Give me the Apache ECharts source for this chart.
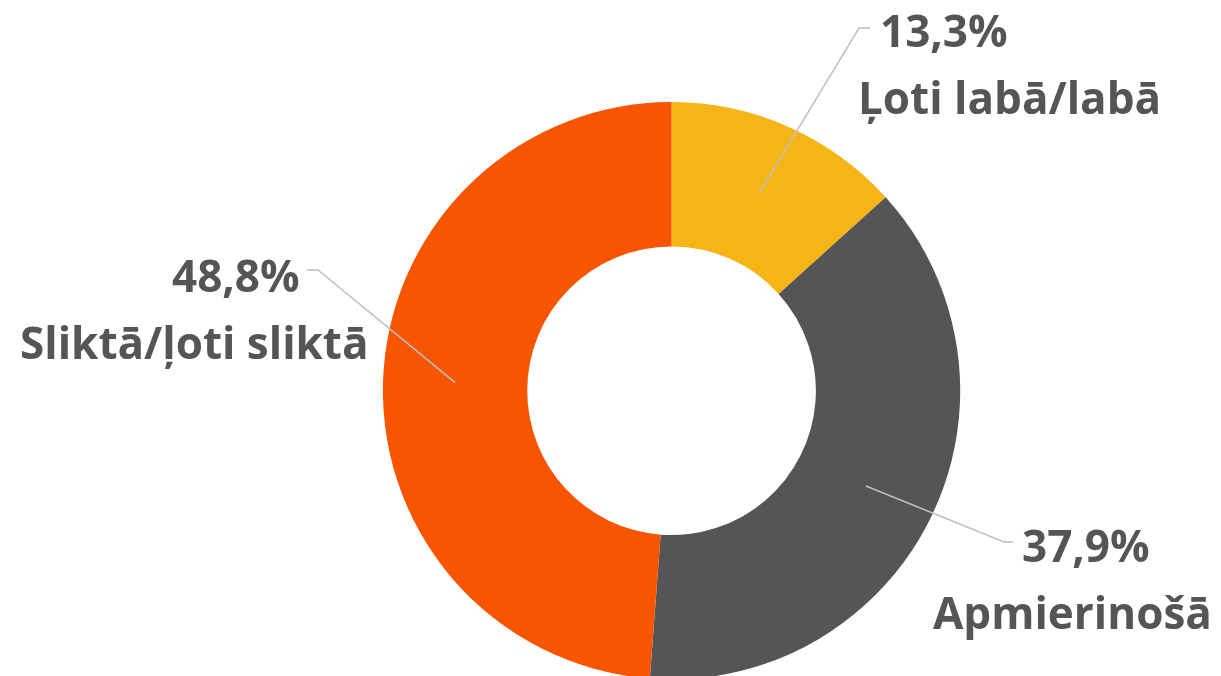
<!DOCTYPE html>
<html>
<head>
<meta charset="utf-8">
<script src="https://cdn.jsdelivr.net/npm/echarts@6/dist/echarts.min.js"></script>
<style>
  html, body { margin: 0; padding: 0; background: #fff; }
  #chart { width: 1221px; height: 676px; }
</style>
</head>
<body>
<div id="chart"></div>
<script>
const categories = ["Ļoti labā/labā", "Apmierinošā", "Sliktā/ļoti sliktā"];
const shares = [13.3, 37.9, 48.8];
const colors = ["#F6B517", "#555555", "#F75500"];

const CENTER = [0.55, 0.578];
const RADIUS = [0.427, 0.854];

const chart = echarts.init(document.getElementById("chart"));

// label boxes: name left x, top y, offset of the % line, line elbow and end
const spots = [
  { x: 858, y: 1, off: 22, elbow: [859, 28], end: [870, 28] },
  { x: 933, y: 516, off: 89, elbow: [1004, 542], end: [1013, 542] },
  { x: 20, y: 246, off: 152, elbow: [318, 270], end: [307, 270] },
];

const total = shares.reduce((a, b) => a + b, 0);

function anchor(i) {
  const w = chart.getWidth();
  const h = chart.getHeight();
  const cx = w * CENTER[0];
  const cy = h * CENTER[1];
  const half = Math.min(w, h) / 2;
  const r = half * (RADIUS[0] + RADIUS[1]) / 2;
  let before = 0;
  for (let k = 0; k < i; k++) before += shares[k];
  const a = ((before + shares[i] / 2) / total) * Math.PI * 2;
  return [cx + r * Math.sin(a), cy - r * Math.cos(a)];
}

const textStyle = {
  fontFamily: "Open Sans",
  fontWeight: "bold",
  fontSize: 44,
  lineHeight: 67,
  color: "#555555",
};

const common = {
  type: "pie",
  center: CENTER.map((v) => v * 100 + "%"),
  radius: RADIUS.map((v) => v * 100 + "%"),
  startAngle: 90,
  clockwise: true,
  avoidLabelOverlap: false,
  emphasis: { disabled: true },
};

const option = {
  animation: false,
  series: [
    Object.assign({}, common, {
      z: 2,
      itemStyle: { borderWidth: 0 },
      label: { show: false },
      labelLine: { show: false },
      data: categories.map((name, i) => ({
        name,
        value: shares[i],
        itemStyle: { color: colors[i] },
      })),
    }),
    // transparent copy on top, so the leader lines stay visible over the ring
    Object.assign({}, common, {
      z: 5,
      silent: true,
      itemStyle: { color: "rgba(0,0,0,0)", borderWidth: 0 },
      labelLine: {
        show: true,
        lineStyle: { color: "#BFBFBF", width: 1.5 },
      },
      data: categories.map((name, i) => ({
        name,
        value: shares[i],
        label: {
          show: true,
          position: "outside",
          formatter: (p) =>
            "{p|" + p.value.toFixed(1).replace(".", ",") + "%}\n{n|" + p.name + "}",
          rich: {
            p: Object.assign({}, textStyle, { padding: [0, 0, 0, spots[i].off] }),
            n: Object.assign({}, textStyle),
          },
        },
      })),
      labelLayout: (params) => {
        const s = spots[params.dataIndex];
        return {
          x: s.x,
          y: s.y,
          align: "left",
          verticalAlign: "top",
          labelLinePoints: [anchor(params.dataIndex), s.elbow, s.end],
        };
      },
    }),
  ],
};

chart.setOption(option);
</script>
</body>
</html>
